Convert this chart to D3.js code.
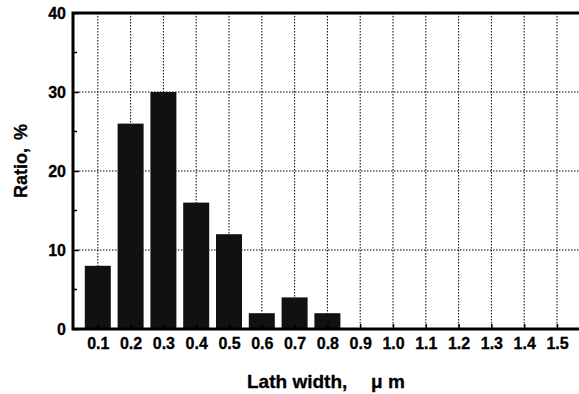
<!DOCTYPE html>
<html>
<head>
<meta charset="utf-8">
<script src="https://cdn.jsdelivr.net/npm/d3@7"></script>
<style>
  body { margin: 0; background: #fff; }
  text { font-family: "Liberation Sans", Arial, sans-serif; font-weight: bold; fill: #000; stroke: #000; stroke-width: 0.3px; }
</style>
</head>
<body>
<svg id="chart" width="579" height="394"></svg>
<script>
const widths = [0.1, 0.2, 0.3, 0.4, 0.5, 0.6, 0.7, 0.8, 0.9, 1.0, 1.1, 1.2, 1.3, 1.4, 1.5];
const ratios = [8, 26, 30, 16, 12, 2, 4, 2, 0, 0, 0, 0, 0, 0, 0];
const yTicks = [0, 10, 20, 30, 40];
const yMinor = [5, 15, 25, 35];

const svg = d3.select("#chart");
const plotLeft = 73, plotRight = 583, plotTop = 13, plotBottom = 329;

const xScale = d3.scaleLinear().domain([0, 1.6]).range([65, 65 + 328 * 1.6]);
const yScale = d3.scaleLinear().domain([0, 40]).range([plotBottom, plotTop]);
const barW = 26;

// dotted grid
const grid = svg.append("g")
  .attr("stroke", "#000")
  .attr("stroke-width", 1)
  .attr("stroke-dasharray", "1.5,1.5");

grid.selectAll(".vgrid")
  .data(widths)
  .join("line")
  .attr("class", "vgrid")
  .attr("x1", (d) => xScale(d))
  .attr("x2", (d) => xScale(d))
  .attr("y1", plotTop)
  .attr("y2", plotBottom);

grid.selectAll(".hgrid")
  .data([10, 20, 30])
  .join("line")
  .attr("class", "hgrid")
  .attr("x1", plotLeft)
  .attr("x2", plotRight)
  .attr("y1", (d) => yScale(d))
  .attr("y2", (d) => yScale(d));

// bars
svg.append("g")
  .selectAll("rect")
  .data(widths.map((w, i) => ({ w, r: ratios[i] })).filter((d) => d.r > 0))
  .join("rect")
  .attr("x", (d) => xScale(d.w) - barW / 2)
  .attr("width", barW)
  .attr("y", (d) => yScale(d.r))
  .attr("height", (d) => yScale(0) - yScale(d.r))
  .attr("fill", "#111");

// y axis
const yAxis = svg.append("g").attr("transform", `translate(${plotLeft},0)`);
yAxis.call(d3.axisLeft(yScale).tickValues(yTicks).tickSize(-6).tickPadding(7).tickFormat(d3.format("d")));
yAxis.select(".domain").remove();
yAxis.selectAll("text").style("font-size", "16px");
yAxis.selectAll(".tick line").attr("stroke-width", 1.5);
yAxis.selectAll(".minor")
  .data(yMinor)
  .join("line")
  .attr("class", "minor")
  .attr("stroke", "#000")
  .attr("stroke-width", 1.5)
  .attr("x1", 0)
  .attr("x2", 4)
  .attr("y1", (d) => yScale(d))
  .attr("y2", (d) => yScale(d));

// x axis
const xAxis = svg.append("g").attr("transform", `translate(0,${plotBottom})`);
xAxis.call(d3.axisBottom(xScale).tickValues(widths).tickSize(-5).tickPadding(9).tickFormat(d3.format(".1f")));
xAxis.select(".domain").remove();
xAxis.selectAll("text").style("font-size", "16px");
xAxis.selectAll(".tick line").attr("stroke-width", 1.5);

// frame
svg.append("path")
  .attr("d", `M${plotRight},${plotTop}H${plotLeft}V${plotBottom}H${plotRight}`)
  .attr("fill", "none")
  .attr("stroke", "#000")
  .attr("stroke-width", 3);

// axis titles
const xTitle = svg.append("text")
  .attr("y", 388)
  .style("font-size", "19px");
xTitle.append("tspan").attr("x", 247).text("Lath width,");
xTitle.append("tspan").attr("x", 371).text("\u03bc");
xTitle.append("tspan").attr("x", 388).text("m");

const yTitle = svg.append("text")
  .attr("transform", "translate(27,198) rotate(-90)")
  .style("font-size", "18px");
yTitle.append("tspan").attr("x", 0).text("Ratio,");
yTitle.append("tspan").attr("x", 58).text("%");
</script>
</body>
</html>
